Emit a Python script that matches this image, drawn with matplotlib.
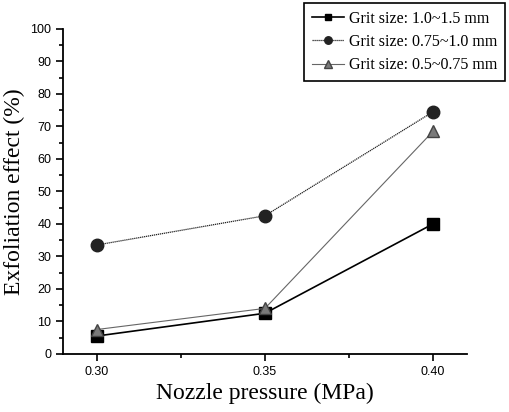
import numpy as np
import matplotlib
matplotlib.use("Agg")
import matplotlib.pyplot as plt
from matplotlib.ticker import MultipleLocator

# data
pressure = [0.30, 0.35, 0.40]
grit_large = [5.5, 12.5, 40.0]
grit_mid = [33.5, 42.5, 74.5]
grit_small = [7.5, 14.0, 68.5]
labels = ["Grit size: 1.0~1.5 mm", "Grit size: 0.75~1.0 mm", "Grit size: 0.5~0.75 mm"]

plt.rcParams['font.family'] = 'Liberation Sans'

fig = plt.figure(figsize=(5.09, 4.12), dpi=100)
ax = fig.add_axes([0.124, 0.141, 0.793, 0.789])

ax.plot(pressure, grit_large, color='black', lw=1.2, marker='s', ms=8, label=labels[0])
ax.plot(pressure, grit_mid, color='#222222', lw=0.9, ls=(0, (1, 0.6)), marker='o', ms=9, label=labels[1])
ax.plot(pressure, grit_small, color='#666666', lw=0.8, marker='^', ms=9,
        markerfacecolor='#7a7a7a', markeredgecolor='#444444', label=labels[2])

ax.set_xlim(0.29, 0.41)
ax.set_ylim(0, 100)
ax.set_xticks(pressure)
ax.set_xticklabels(["0.30", "0.35", "0.40"])
ax.xaxis.set_minor_locator(MultipleLocator(0.025))
ax.yaxis.set_major_locator(MultipleLocator(10))
ax.yaxis.set_minor_locator(MultipleLocator(5))
ax.tick_params(which='both', direction='out', width=1.2, labelsize=9)
ax.tick_params(which='major', length=5)
ax.tick_params(which='minor', length=3)
ax.spines['top'].set_visible(False)
ax.spines['right'].set_visible(False)
ax.spines['left'].set_linewidth(1.3)
ax.spines['bottom'].set_linewidth(1.3)

ax.set_xlabel("Nozzle pressure (MPa)", family='Liberation Serif', fontsize=17, labelpad=4)
ax.set_ylabel("Exfoliation effect (%)", family='Liberation Serif', fontsize=17, labelpad=4)

leg = fig.legend(loc='upper right', bbox_to_anchor=(0.992, 0.993), borderaxespad=0,
                 prop={'family': 'Liberation Serif', 'size': 11.5},
                 fancybox=False, edgecolor='black', framealpha=1, handlelength=2.0,
                 markerscale=0.6, borderpad=0.5, labelspacing=0.45, handletextpad=0.3)
leg.get_frame().set_linewidth(1.2)

plt.savefig("out.png", dpi=100)
